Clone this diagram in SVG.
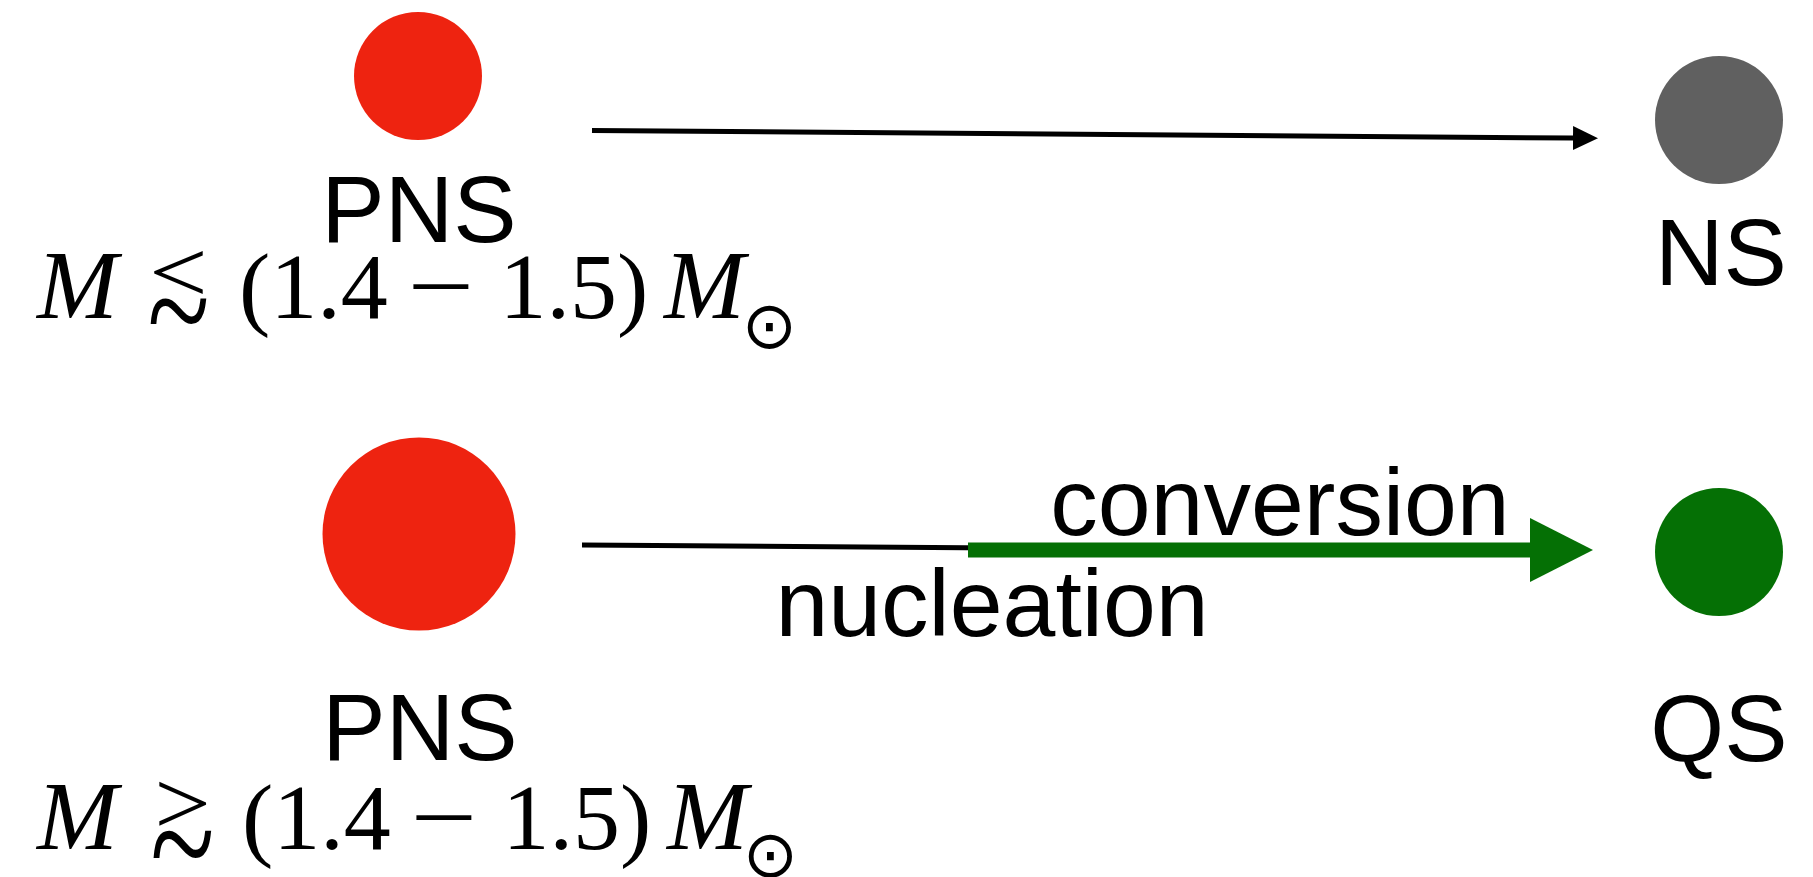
<svg xmlns="http://www.w3.org/2000/svg" width="1813" height="877" viewBox="0 0 1813 877">
  <style>
    .lbl { font-family: "Liberation Sans", Arial, sans-serif; font-size: 95px; fill: #000; }
    .mi { font-family: "Liberation Serif", "Times New Roman", serif; font-style: italic; font-size: 97px; fill: #000; }
    .mr { font-family: "Liberation Serif", "Times New Roman", serif; font-size: 94px; fill: #000; }
    .rel { font-family: "Liberation Serif", "Times New Roman", serif; font-size: 100px; fill: #000; }
    .sym { font-family: "DejaVu Sans", "DejaVu Serif", sans-serif; font-size: 66px; fill: #000; text-anchor: middle; }
    .pns { fill: #ee2310; }
  </style>
  <defs>
    <marker id="headBlack" markerUnits="userSpaceOnUse" markerWidth="25" markerHeight="24" viewBox="0 0 25 24" refX="0" refY="12" orient="auto">
      <polygon points="0,0 25,12 0,24" fill="#000"/>
    </marker>
    <marker id="headGreen" markerUnits="userSpaceOnUse" markerWidth="63" markerHeight="64" viewBox="0 0 63 64" refX="0" refY="32" orient="auto">
      <polygon points="0,0 63,32 0,64" fill="#057005"/>
    </marker>
  </defs>

  <rect width="1813" height="877" fill="#fff"/>

  <!-- connectors -->
  <g id="connectors">
    <line x1="592" y1="130.5" x2="1573" y2="138" stroke="#000" stroke-width="5" marker-end="url(#headBlack)"/>
    <line x1="582" y1="545" x2="1000" y2="548" stroke="#000" stroke-width="5"/>
    <line x1="968" y1="550" x2="1530" y2="550" stroke="#057005" stroke-width="15" marker-end="url(#headGreen)"/>
    <text class="lbl" x="1280" y="535" text-anchor="middle">conversion</text>
    <text class="lbl" x="992" y="636" text-anchor="middle">nucleation</text>
  </g>

  <!-- light proto-neutron star -->
  <g id="pns-light">
    <circle class="pns" cx="418" cy="76" r="64"/>
    <text class="lbl" x="419" y="242" text-anchor="middle">PNS</text>
    <text class="mi" x="37" y="318">M</text>
    <text class="rel" transform="translate(149.1 302.3) scale(1.043 0.881)">&lt;</text>
    <text class="rel" transform="translate(147.4 360.5) scale(1.147 1.5)">~</text>
    <text class="mr" x="239" y="318">(1.4</text>
    <text class="mr" transform="translate(407.3 318) scale(1.256 1)">−</text>
    <text class="mr" x="499.6" y="318">1.5)</text>
    <text class="mi" x="664" y="318">M</text>
    <text class="sym" x="769.5" y="347.5">⊙</text>
  </g>

  <!-- heavy proto-neutron star -->
  <g id="pns-heavy">
    <circle class="pns" cx="419" cy="534" r="96.5"/>
    <text class="lbl" x="420" y="760" text-anchor="middle">PNS</text>
    <text class="mi" x="37" y="849">M</text>
    <text class="rel" transform="translate(154.2 834.3) scale(1.004 0.9)">&gt;</text>
    <text class="rel" transform="translate(150.2 898) scale(1.19 1.64)">~</text>
    <text class="mr" x="242" y="849">(1.4</text>
    <text class="mr" transform="translate(410.3 849) scale(1.256 1)">−</text>
    <text class="mr" x="502.6" y="849">1.5)</text>
    <text class="mi" x="667" y="849">M</text>
    <text class="sym" x="770.5" y="877">⊙</text>
  </g>

  <!-- neutron star -->
  <g id="ns">
    <circle cx="1719" cy="120" r="64" fill="#606060"/>
    <text class="lbl" x="1721" y="285" text-anchor="middle">NS</text>
  </g>

  <!-- quark star -->
  <g id="qs">
    <circle cx="1719" cy="552" r="64" fill="#057005"/>
    <text class="lbl" x="1719" y="761" text-anchor="middle">QS</text>
  </g>
</svg>
